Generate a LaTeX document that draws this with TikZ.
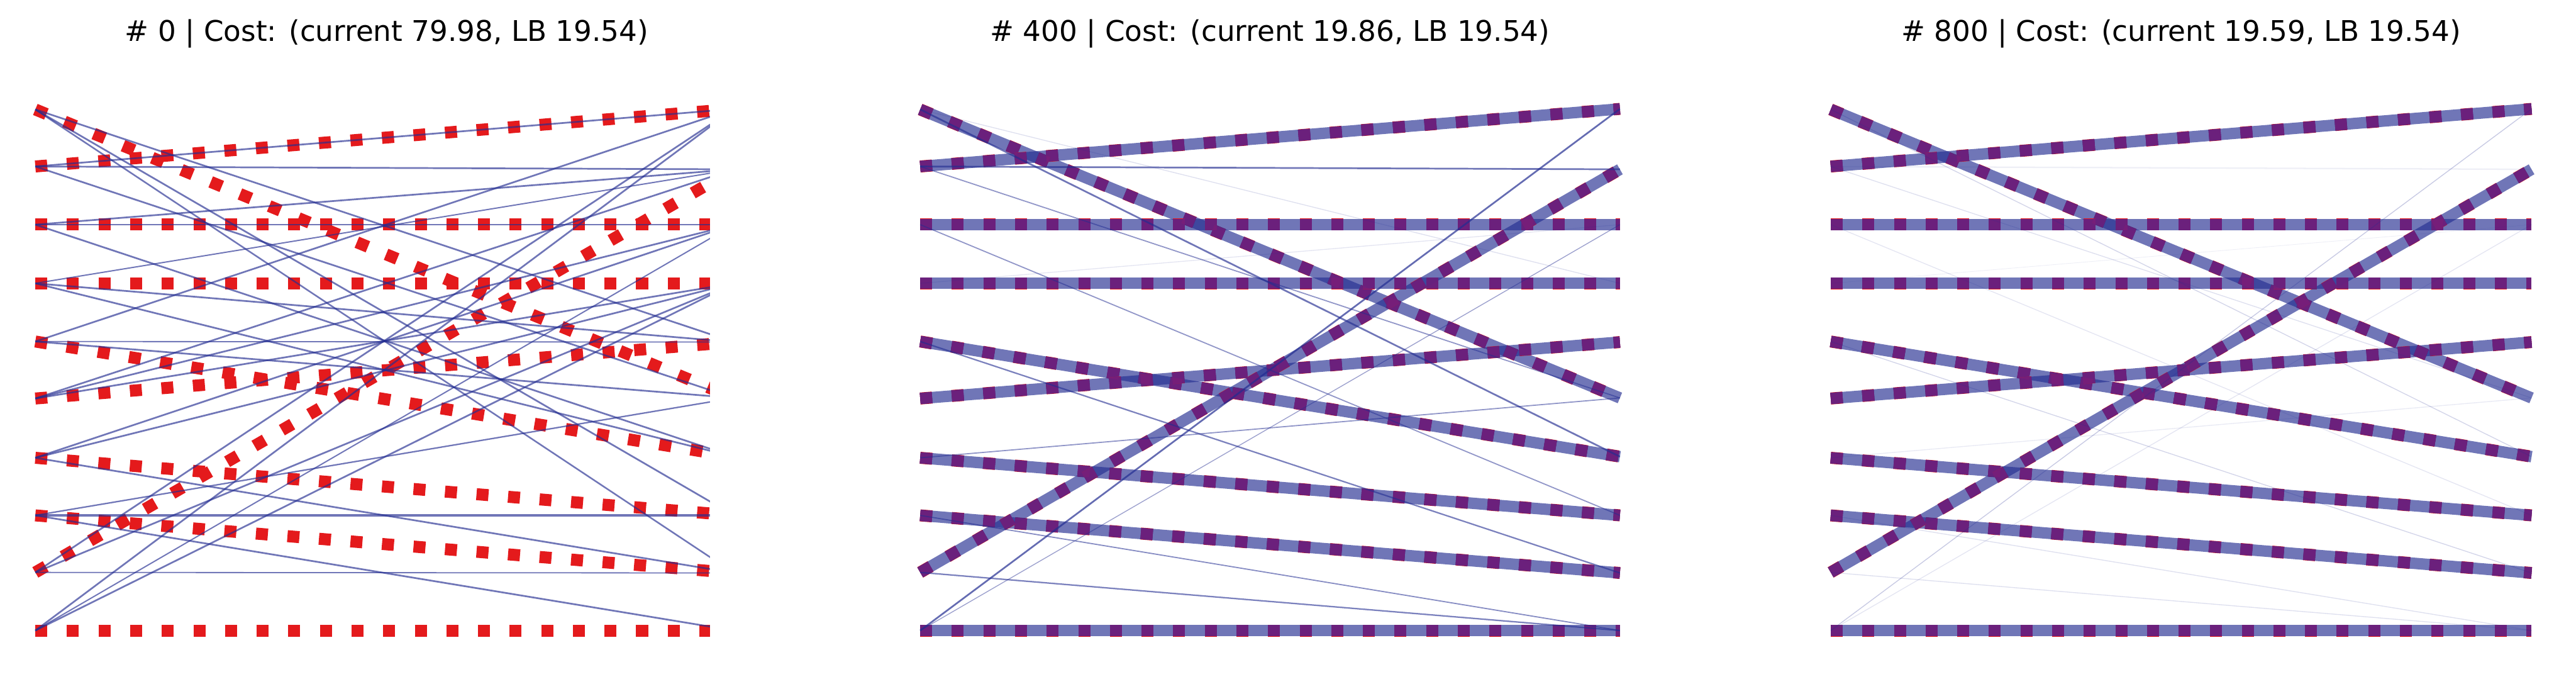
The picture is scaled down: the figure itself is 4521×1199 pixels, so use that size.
\documentclass[tikz,border=0pt]{standalone}
\usepackage{fontspec}
\setmainfont{DejaVu Sans}
\definecolor{optred}{RGB}{228,26,28}
\definecolor{optpurple}{RGB}{122,30,120}
\definecolor{planblue}{RGB}{35,45,145}
\tikzset{
  optpath/.style={draw=optred, line width=2.1pt, dash pattern=on 2.1pt off 3.45pt},
  optover/.style={draw=optpurple, line width=1.95pt, dash pattern=on 2.1pt off 3.45pt},
  planpath/.style={draw=planblue, draw opacity=0.65, line width=#1},
  faintpath/.style 2 args={draw=planblue, draw opacity=#2, line width=#1},
  titletext/.style={anchor=base, font=\fontsize{5}{6}\selectfont, text=black, inner sep=0pt},
}
\begin{document}
\begin{tikzpicture}[x=0.1pt, y=-0.1pt]
\useasboundingbox (0,0) rectangle (4521,1199);
% points
\foreach \yy [count=\i from 0] in {192,292,394,497,599,699,803,904,1004,1106} {
  \coordinate (A-L\i) at (62,\yy);
  \coordinate (B-L\i) at (1615,\yy);
  \coordinate (C-L\i) at (3213,\yy);
}
\foreach \yy [count=\i from 0] in {191,297,394,497,600,698,801,904,1005,1106} {
  \coordinate (A-R\i) at (1288,\yy);
  \coordinate (B-R\i) at (2843,\yy);
  \coordinate (C-R\i) at (4443,\yy);
}
% titles
\node[titletext] (t1) at (679,72) {\# 0 | Cost: (current 79.98, LB 19.54)};
\node[titletext] (t2) at (2229,72) {\# 400 | Cost: (current 19.86, LB 19.54)};
\node[titletext] (t3) at (3828,72) {\# 800 | Cost: (current 19.59, LB 19.54)};
% panel 1
\begin{scope}
\clip (0,0) rectangle (1246,1199);
\foreach \a/\b in {0/5,1/0,2/2,3/3,4/6,5/4,6/7,7/8,8/1,9/9}
  \draw[optpath] (A-L\a) -- (A-R\b);
\foreach \a/\b/\w in {0/4/0.3,0/7/0.3,0/8/0.28,1/0/0.3,1/1/0.3,1/5/0.3,
  2/1/0.3,2/2/0.28,2/6/0.3,3/1/0.22,3/4/0.3,3/6/0.3,4/0/0.3,4/4/0.2,4/5/0.3,
  5/1/0.3,5/2/0.3,5/3/0.3,6/2/0.3,6/3/0.3,6/8/0.3,7/5/0.25,7/7/0.5,7/9/0.3,
  8/0/0.3,8/3/0.3,8/8/0.2,9/0/0.3,9/2/0.22,9/3/0.3}
  \draw[planpath=\w pt] (A-L\a) -- (A-R\b);
\end{scope}
% panel 2
\foreach \a/\b in {0/5,1/0,2/2,3/3,4/6,5/4,6/7,7/8,8/1,9/9} {
  \draw[optpath] (B-L\a) -- (B-R\b);
  \draw[optover] (B-L\a) -- (B-R\b);
  \draw[planpath=2pt] (B-L\a) -- (B-R\b);
}
\foreach \a/\b in {0/5,1/0,2/2,3/3,4/6,5/4,6/7,7/8,8/1,9/9}
  \draw[optover, draw opacity=0.75] (B-L\a) -- (B-R\b);
\foreach \a/\b/\w/\o in {0/6/0.3/0.65,0/3/0.15/0.15,1/1/0.3/0.65,1/5/0.2/0.5,
  2/7/0.2/0.5,3/2/0.15/0.12,4/8/0.25/0.6,6/5/0.2/0.5,7/9/0.2/0.55,
  8/9/0.25/0.6,9/0/0.3/0.7,9/2/0.15/0.45}
  \draw[faintpath={\w pt}{\o}] (B-L\a) -- (B-R\b);
% panel 3
\foreach \a/\b in {0/5,1/0,2/2,3/3,4/6,5/4,6/7,7/8,8/1,9/9} {
  \draw[optpath] (C-L\a) -- (C-R\b);
  \draw[optover] (C-L\a) -- (C-R\b);
  \draw[planpath=2pt] (C-L\a) -- (C-R\b);
}
\foreach \a/\b in {0/5,1/0,2/2,3/3,4/6,5/4,6/7,7/8,8/1,9/9}
  \draw[optover, draw opacity=0.75] (C-L\a) -- (C-R\b);
\foreach \a/\b/\w/\o in {0/6/0.15/0.2,1/1/0.25/0.08,1/5/0.15/0.15,
  2/7/0.15/0.12,3/2/0.1/0.08,4/8/0.15/0.2,6/5/0.15/0.1,7/9/0.15/0.15,
  8/9/0.15/0.15,9/0/0.15/0.25,9/2/0.15/0.12}
  \draw[faintpath={\w pt}{\o}] (C-L\a) -- (C-R\b);
\end{tikzpicture}
\end{document}
